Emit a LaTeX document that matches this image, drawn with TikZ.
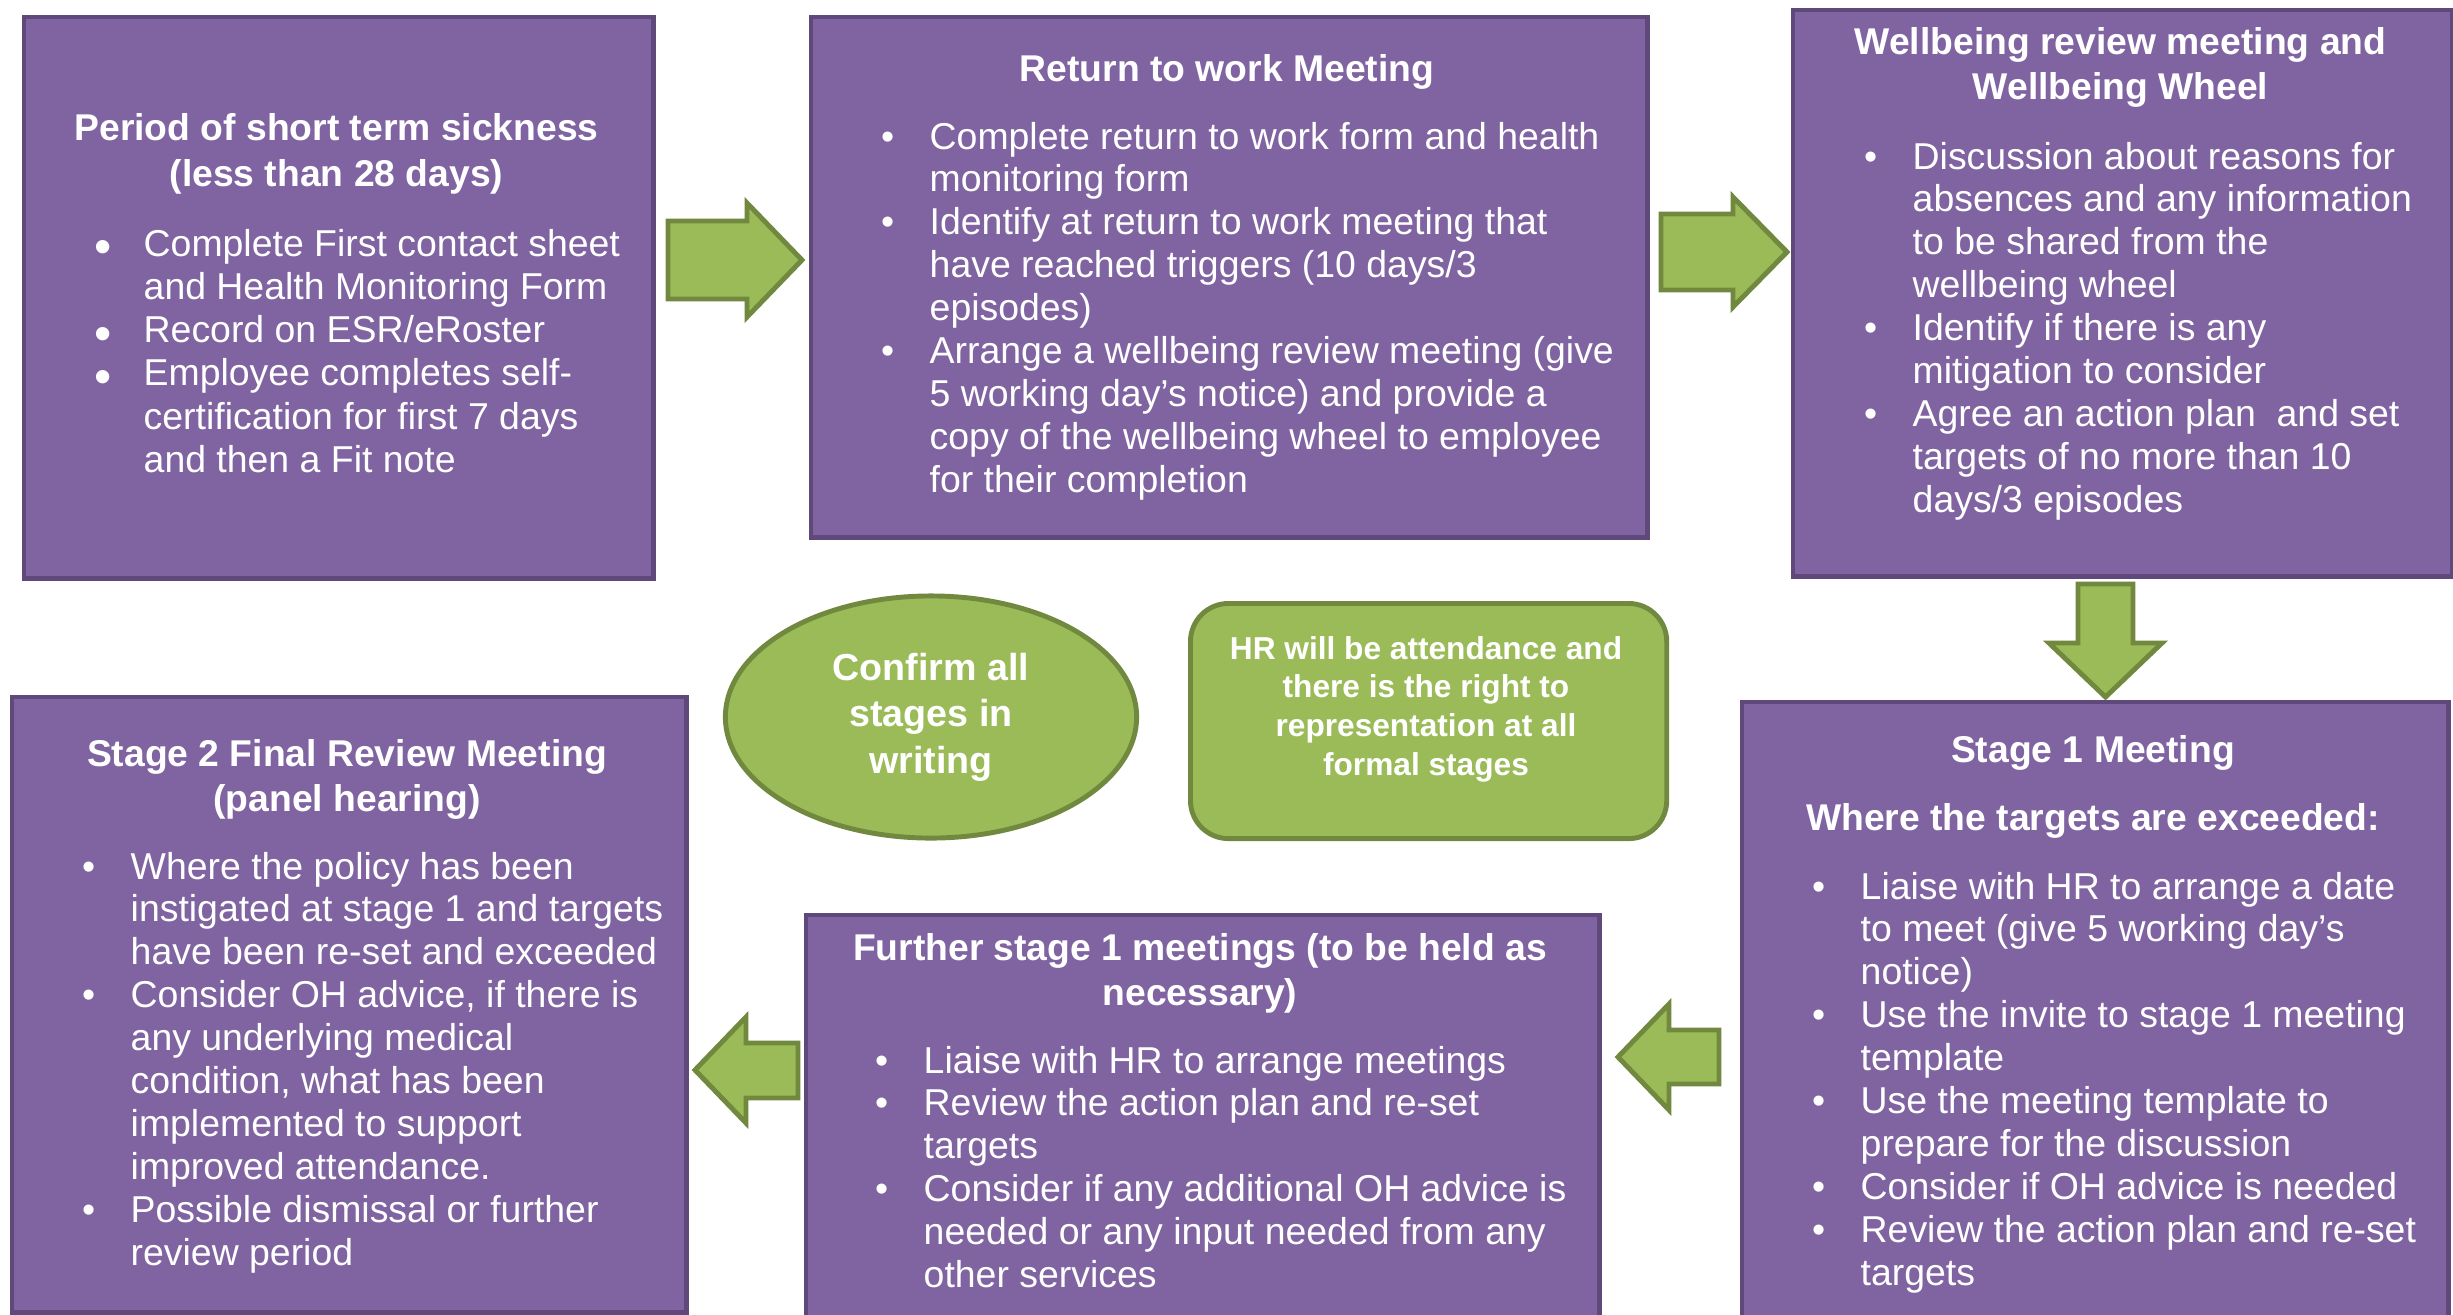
\documentclass[tikz,border=0pt]{standalone}
\usepackage{fontspec}
\setmainfont{Liberation Sans}
\usetikzlibrary{shapes.geometric}
\definecolor{pfill}{HTML}{8064A2}
\definecolor{pborder}{HTML}{5F497A}
\definecolor{gfill}{HTML}{9BBB59}
\definecolor{gborder}{HTML}{71893F}
\newcommand\bl{\llap{\makebox[0pt][c]{•}\hspace{0.42cm}}}
\newcommand\blb{\llap{\makebox[0pt][c]{\raisebox{-2.2pt}[0pt][0pt]{\fontsize{14pt}{14pt}\selectfont •}}\hspace{0.41cm}}}
\tikzset{
  pbox/.style={draw=pborder, fill=pfill, line width=1.2pt, anchor=north west, inner sep=0pt},
  garrow/.style={draw=gborder, fill=gfill, line width=1.4pt, line join=miter},
  gshape/.style={draw=gborder, fill=gfill, line width=1.4pt, inner sep=0pt},
  ttl/.style={anchor=base, inner sep=0pt, text=white, font=\fontsize{10.6pt}{12.9pt}\selectfont\bfseries},
  bod/.style={anchor=base west, inner sep=0pt, text=white, font=\fontsize{10.64pt}{12.2pt}\selectfont},
}
\renewcommand\arraystretch{1}
\begin{document}
\begin{tikzpicture}[x=0.01cm, y=-0.01cm]
\useasboundingbox (0,0) rectangle (2453,1314);
\fill[white] (0,0) rectangle (2453,1314);
\begin{scope}
\clip (0,0) rectangle (2453,1314);

% purple boxes
\node[pbox, minimum width=6.29cm, minimum height=5.61cm] (b1) at (22,15) {};
\node[pbox, minimum width=8.36cm, minimum height=5.20cm] (b2) at (809,15) {};
\node[pbox, minimum width=6.59cm, minimum height=5.66cm] (b3) at (1791,8) {};
\node[pbox, minimum width=7.06cm, minimum height=6.40cm] (s1) at (1740,700) {};
\node[pbox, minimum width=6.74cm, minimum height=6.15cm] (s2) at (10,695) {};
\node[pbox, minimum width=7.93cm, minimum height=4.27cm] (fu) at (804,913) {};

% green shapes
\node[gshape, ellipse, minimum width=4.11cm, minimum height=2.42cm] (conf) at (931,717) {};
\node[gshape, rectangle, rounded corners=0.38cm, anchor=north west, minimum width=4.76cm, minimum height=2.35cm] (hr) at (1188,601) {};

% block arrows
\draw[garrow] (668,221) -- (747,221) -- (747,203) -- (802,260) -- (747,317) -- (747,299) -- (668,299) -- cycle;
\draw[garrow] (1661,214) -- (1733,214) -- (1733,197) -- (1787,252) -- (1733,307) -- (1733,290) -- (1661,290) -- cycle;
\draw[garrow] (2078,584) -- (2133,584) -- (2133,643) -- (2162,643) -- (2105.5,697) -- (2049,643) -- (2078,643) -- cycle;
\draw[garrow] (1719,1030) -- (1669,1030) -- (1669,1004) -- (1618,1057) -- (1669,1110) -- (1669,1084) -- (1719,1084) -- cycle;
\draw[garrow] (798,1043) -- (746,1043) -- (746,1017) -- (695,1070) -- (746,1123) -- (746,1098) -- (798,1098) -- cycle;

% titles
\node[ttl, font=\fontsize{10.6pt}{13.1pt}\selectfont\bfseries] (t1) at (336.5,140) {\begin{tabular}[t]{@{}c@{}}Period of short term sickness\\(less than 28 days)\end{tabular}};
\node[ttl] (t2) at (1227,81) {\begin{tabular}[t]{@{}c@{}}Return to work Meeting\end{tabular}};
\node[ttl, font=\fontsize{10.6pt}{12.8pt}\selectfont\bfseries] (t3) at (2120.5,54) {\begin{tabular}[t]{@{}c@{}}Wellbeing review meeting and\\Wellbeing Wheel\end{tabular}};
\node[ttl, font=\fontsize{10.6pt}{19.35pt}\selectfont\bfseries] (ts1) at (2093,762) {\begin{tabular}[t]{@{}c@{}}Stage 1 Meeting\\Where the targets are exceeded:\end{tabular}};
\node[ttl, font=\fontsize{10.6pt}{12.8pt}\selectfont\bfseries] (ts2) at (347,766) {\begin{tabular}[t]{@{}c@{}}Stage 2 Final Review Meeting\\(panel hearing)\end{tabular}};
\node[ttl, font=\fontsize{10.6pt}{12.8pt}\selectfont\bfseries] (tfu) at (1200,960) {\begin{tabular}[t]{@{}c@{}}Further stage 1 meetings (to be held as\\necessary)\end{tabular}};
\node[ttl, font=\fontsize{10.7pt}{13.23pt}\selectfont\bfseries] (tconf) at (931,680) {\begin{tabular}[t]{@{}c@{}}Confirm all\\stages in\\writing\end{tabular}};
\node[ttl, font=\fontsize{9.0pt}{11.0pt}\selectfont\bfseries] (thr) at (1426,659) {\begin{tabular}[t]{@{}c@{}}HR will be attendance and\\there is the right to\\representation at all\\formal stages\end{tabular}};

% bodies
\node[bod, font=\fontsize{10.64pt}{12.3pt}\selectfont] (x1) at (143,256) {\begin{tabular}[t]{@{}l@{}}
\blb Complete First contact sheet\\
and Health Monitoring Form\\
\blb Record on ESR/eRoster\\
\blb Employee completes self-\\
certification for first 7 days\\
and then a Fit note
\end{tabular}};
\node[bod] (x2) at (929,149) {\begin{tabular}[t]{@{}l@{}}
\bl Complete return to work form and health\\
monitoring form\\
\bl Identify at return to work meeting that\\
have reached triggers (10 days/3\\
episodes)\\
\bl Arrange a wellbeing review meeting (give\\
5 working day’s notice) and provide a\\
copy of the wellbeing wheel to employee\\
for their completion
\end{tabular}};
\node[bod] (x3) at (1912,169) {\begin{tabular}[t]{@{}l@{}}
\bl Discussion about reasons for\\
absences and any information\\
to be shared from the\\
wellbeing wheel\\
\bl Identify if there is any\\
mitigation to consider\\
\bl Agree an action plan \ and set\\
targets of no more than 10\\
days/3 episodes
\end{tabular}};
\node[bod] (xs1) at (1860,899) {\begin{tabular}[t]{@{}l@{}}
\bl Liaise with HR to arrange a date\\
to meet (give 5 working day’s\\
notice)\\
\bl Use the invite to stage 1 meeting\\
template\\
\bl Use the meeting template to\\
prepare for the discussion\\
\bl Consider if OH advice is needed\\
\bl Review the action plan and re-set\\
targets
\end{tabular}};
\node[bod] (xs2) at (130,879) {\begin{tabular}[t]{@{}l@{}}
\bl Where the policy has been\\
instigated at stage 1 and targets\\
have been re-set and exceeded\\
\bl Consider OH advice, if there is\\
any underlying medical\\
condition, what has been\\
implemented to support\\
improved attendance.\\
\bl Possible dismissal or further\\
review period
\end{tabular}};
\node[bod] (xfu) at (923,1073) {\begin{tabular}[t]{@{}l@{}}
\bl Liaise with HR to arrange meetings\\
\bl Review the action plan and re-set\\
targets\\
\bl Consider if any additional OH advice is\\
needed or any input needed from any\\
other services
\end{tabular}};
\end{scope}
\end{tikzpicture}
\end{document}
